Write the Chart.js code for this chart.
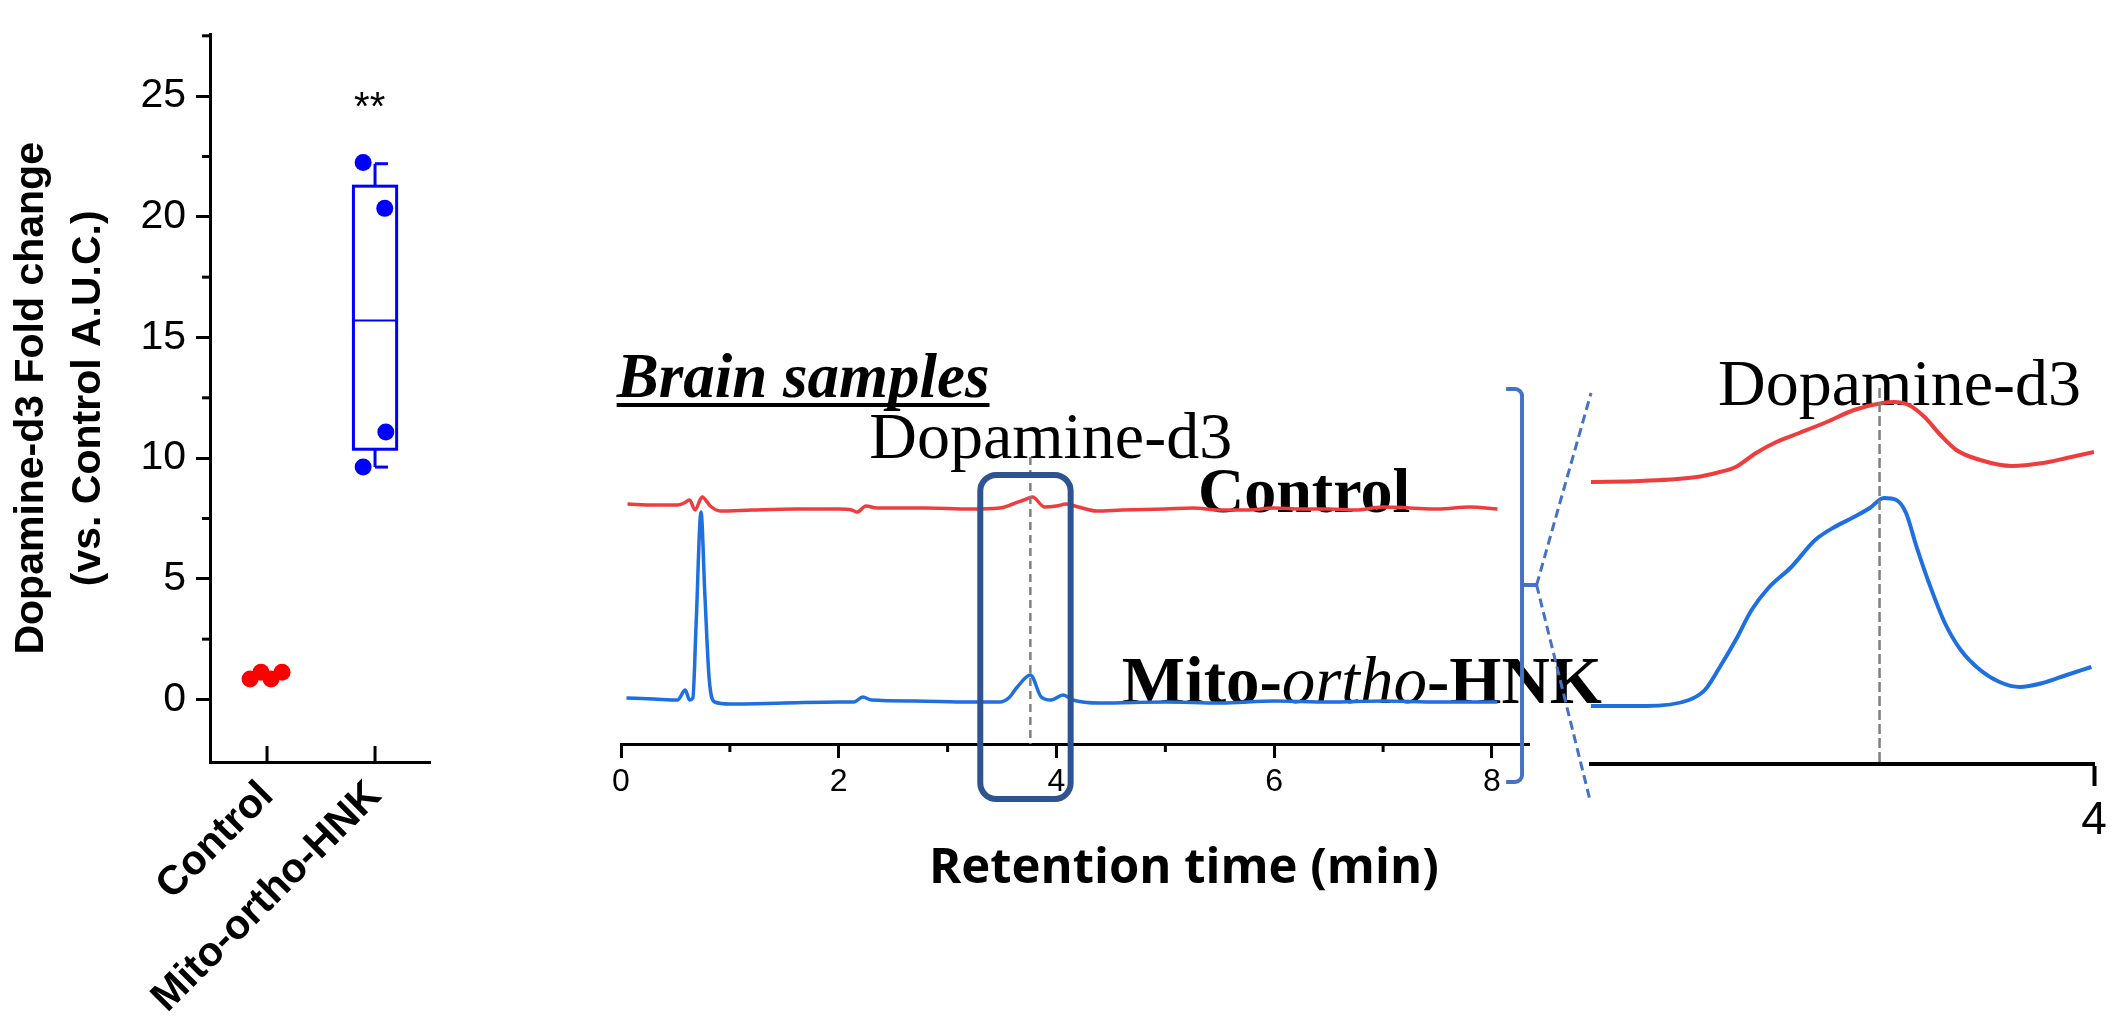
<!DOCTYPE html>
<html><head><meta charset="utf-8">
<script src="https://cdn.jsdelivr.net/npm/chart.js@4.4.1/dist/chart.umd.min.js"></script>
<style>
html,body{margin:0;padding:0;background:#fff;width:2117px;height:1017px;overflow:hidden;}
canvas{position:absolute;top:0;}
</style></head><body>
<canvas id="c1" width="450" height="1017" style="left:0px"></canvas>
<canvas id="c2" width="1667" height="1017" style="left:450px"></canvas>
<canvas id="c3" width="537" height="1017" style="left:1580px"></canvas>
<script>
// ---------------- DATA ----------------
// Left panel: fold change (vs. Control A.U.C.)
const groupLabels = ['Control', 'Mito-ortho-HNK'];
const foldTicks = [0, 5, 10, 15, 20, 25];
const foldMinorTicks = [2.5, 7.5, 12.5, 17.5, 22.5, 27.5];
const controlJitter = [-0.157, -0.056, 0.037, 0.139];
const controlFold = [0.85, 1.13, 0.85, 1.13];
const mitoJitter = [0.89, 1.09, 1.10, 0.89];
const mitoFold = [22.25, 20.35, 11.08, 9.63];
const mitoBoxStats = [9.63, 10.37, 15.7, 21.27, 22.2]; // min, q1, median, q3, max

// Chromatogram (retention time in min, signal in a.u.)
const timeTicks = [0, 2, 4, 6, 8];
const timeMinorTicks = [1, 3, 5, 7];
const controlTime = [0.06,0.30,0.52,0.58,0.63,0.68,0.745,0.82,0.91,1.2,1.6,2.0,2.12,2.17,2.25,2.35,2.8,3.2,3.48,3.6,3.7,3.78,3.89,4.0,4.09,4.2,4.37,4.6,5.0,5.25,5.5,5.75,6.0,6.25,6.5,6.75,7.0,7.25,7.5,7.8,8.05];
const controlSignal = [24.0,23.9,23.9,24.1,24.4,23.4,24.7,23.8,23.3,23.4,23.5,23.5,23.4,23.2,23.8,23.6,23.6,23.5,23.6,24.0,24.4,24.7,23.7,23.8,24.0,23.7,23.3,23.4,23.5,23.6,23.4,23.4,23.6,23.5,23.5,23.4,23.7,23.6,23.5,23.7,23.5];
const mitoTime = [0.05,0.3,0.52,0.59,0.63,0.66,0.69,0.735,0.77,0.81,0.86,1.0,1.5,2.0,2.14,2.22,2.3,2.7,3.2,3.48,3.56,3.64,3.76,3.86,3.95,4.06,4.15,4.4,5.0,5.5,6.0,6.5,7.0,7.5,8.05];
const mitoSignal = [4.6,4.5,4.4,5.4,4.4,4.6,12.0,23.2,15.0,6.5,4.2,4.0,4.1,4.2,4.2,4.7,4.4,4.3,4.2,4.2,4.6,5.7,6.9,4.7,4.4,4.9,4.4,4.1,4.2,4.1,4.3,4.2,4.3,4.2,4.2];

// Zoomed inset around the Dopamine-d3 peak
const insetTicks = [4];
const insetControlTime = [3.430,3.486,3.550,3.576,3.594,3.617,3.640,3.666,3.697,3.728,3.760,3.773,3.790,3.808,3.826,3.844,3.871,3.907,3.942,3.969,4.000];
const insetControlSignal = [28.2,28.3,28.7,29.2,29.7,31.1,32.2,33.1,34.2,35.4,36.1,36.2,35.9,34.7,32.9,31.4,30.4,29.8,30.1,30.6,31.2];
const insetMitoTime = [3.430,3.492,3.541,3.559,3.576,3.594,3.612,3.631,3.657,3.684,3.706,3.728,3.746,3.762,3.776,3.787,3.799,3.813,3.831,3.849,3.871,3.893,3.916,3.942,3.969,3.997];
const insetMitoSignal = [5.8,5.8,6.4,7.4,9.7,12.4,15.4,17.6,19.7,22.4,23.7,24.7,25.6,26.6,26.4,25.1,21.7,18.1,14.1,11.4,9.4,8.2,7.7,8.1,8.9,9.7];

// ---------------- HELPERS ----------------
const SANS = '"Liberation Sans", Arial, sans-serif';
const SERIF = '"Liberation Serif", "Times New Roman", serif';
const RED = '#F03C3C', BLUE = '#1E6FE0';
function pts(xs, ys){ return xs.map((x,i)=>({x, y: ys[i]})); }
function line(ctx, x1, y1, x2, y2){ ctx.beginPath(); ctx.moveTo(x1,y1); ctx.lineTo(x2,y2); ctx.stroke(); }
function text(ctx, s, x, y, font, align){ ctx.font = font; ctx.textAlign = align || 'left'; ctx.textBaseline = 'alphabetic'; ctx.fillStyle = '#000'; ctx.fillText(s, x, y); return ctx.measureText(s).width; }
const common = { responsive:false, animation:false, devicePixelRatio:1, events:[],
  plugins:{ legend:{display:false}, tooltip:{enabled:false} } };

// ---------------- LEFT PANEL ----------------
const leftDeco = { id:'leftDeco',
  beforeDatasetsDraw(chart){
    const {ctx, scales:{x, y}} = chart;
    const [mn, q1, md, q3, mx] = mitoBoxStats;
    const cx = x.getPixelForValue(1), xl = x.getPixelForValue(0.8), xr = x.getPixelForValue(1.2), xc = x.getPixelForValue(1.12);
    ctx.save(); ctx.strokeStyle = '#0000FF';
    ctx.lineWidth = 3;
    ctx.strokeRect(xl, y.getPixelForValue(q3), xr - xl, y.getPixelForValue(q1) - y.getPixelForValue(q3));
    line(ctx, cx, y.getPixelForValue(q3), cx, y.getPixelForValue(mx));
    line(ctx, cx, y.getPixelForValue(mx), xc, y.getPixelForValue(mx));
    line(ctx, cx, y.getPixelForValue(q1), cx, y.getPixelForValue(mn));
    line(ctx, cx, y.getPixelForValue(mn), xc, y.getPixelForValue(mn));
    ctx.lineWidth = 2;
    line(ctx, xl, y.getPixelForValue(md), xr, y.getPixelForValue(md));
    ctx.restore();
  },
  afterDraw(chart){
    const {ctx, chartArea, scales:{x, y}} = chart;
    ctx.save(); ctx.strokeStyle = '#000'; ctx.lineWidth = 3;
    [0,1].forEach(v => { const px = x.getPixelForValue(v); line(ctx, px, chartArea.bottom, px, chartArea.bottom - 16); });
    foldMinorTicks.forEach(v => { const py = y.getPixelForValue(v); line(ctx, chartArea.left, py, chartArea.left - 8, py); });
    text(ctx, '**', x.getPixelForValue(0.95), y.getPixelForValue(24.0), '40px ' + SANS, 'center');
    ctx.restore();
  }
};
new Chart(document.getElementById('c1'), {
  type:'scatter',
  data:{ datasets:[
    { data: pts(controlJitter, controlFold), backgroundColor:'#FF0000', borderColor:'#FF0000', pointRadius:8.5, borderWidth:0 },
    { data: pts(mitoJitter, mitoFold), backgroundColor:'#0000FF', borderColor:'#0000FF', pointRadius:8.5, borderWidth:0 }
  ]},
  options:{ ...common,
    layout:{ padding:{ top:17, right:20, left:0, bottom:0 } },
    scales:{
      x:{ type:'linear', min:-0.528, max:1.509,
        afterBuildTicks: s => { s.ticks = [0,1].map(v => ({value:v})); },
        afterFit: s => { s.height = 255; },
        grid:{ display:true, drawOnChartArea:false, drawTicks:false },
        border:{ display:true, color:'#000', width:3 },
        ticks:{ callback: v => groupLabels[v], minRotation:45, maxRotation:45, autoSkip:false, padding:10, color:'#000',
          font:{ family:SANS, size:41, weight:'bold' } } },
      y:{ min:-2.59, max:27.55,
        afterBuildTicks: s => { s.ticks = foldTicks.map(v => ({value:v})); },
        afterFit: s => { s.width = 210; },
        grid:{ drawOnChartArea:false, drawTicks:true, tickLength:14, tickWidth:3, tickColor:'#000' },
        border:{ display:true, color:'#000', width:3 },
        ticks:{ padding:10, color:'#000', font:{ family:SANS, size:41 } },
        title:{ display:true, text:['Dopamine-d3 Fold change', '(vs. Control A.U.C.)'], color:'#000',
          font:{ family:SANS, size:41, weight:'bold', lineHeight:1.4 }, padding:{ top:3, bottom:0 } } }
    }
  },
  plugins:[leftDeco]
});

// ---------------- CHROMATOGRAM ----------------
const mainDeco = { id:'mainDeco',
  beforeDatasetsDraw(chart){
    const {ctx, scales:{x, y}} = chart;
    ctx.save();
    const bx = x.getPixelForValue(-0.04), by = y.getPixelForValue(34.7);
    const w = text(ctx, 'Brain samples', bx, by, 'italic bold 63px ' + SERIF);
    ctx.fillRect(bx, y.getPixelForValue(33.9) - 2, w, 4);
    text(ctx, 'Dopamine-d3', x.getPixelForValue(2.28), y.getPixelForValue(28.6), '66px ' + SERIF);
    text(ctx, 'Control', x.getPixelForValue(5.30), y.getPixelForValue(23.2), 'bold 64px ' + SERIF);
    let mx = x.getPixelForValue(4.60); const my = y.getPixelForValue(4.1);
    mx += text(ctx, 'Mito-', mx, my, 'bold 67px ' + SERIF);
    mx += text(ctx, 'ortho', mx, my, 'italic 67px ' + SERIF);
    text(ctx, '-HNK', mx, my, 'bold 67px ' + SERIF);
    ctx.restore();
  },
  afterDraw(chart){
    const {ctx, chartArea, scales:{x, y}} = chart;
    ctx.save();
    // minor ticks
    ctx.strokeStyle = '#000'; ctx.lineWidth = 3;
    timeMinorTicks.forEach(v => { const px = x.getPixelForValue(v); line(ctx, px, chartArea.bottom, px, chartArea.bottom + 8); });
    // axis title
    text(ctx, 'Retention time (min)', x.getPixelForValue(5.17), y.getPixelForValue(-13.9), 'bold 49px "Open Sans", ' + SANS, 'center');
    // dashed peak marker
    ctx.strokeStyle = '#808080'; ctx.lineWidth = 2.5; ctx.setLineDash([8, 5]);
    line(ctx, x.getPixelForValue(3.76), y.getPixelForValue(28.7), x.getPixelForValue(3.76), y.getPixelForValue(0));
    ctx.setLineDash([]);
    // rounded selection box
    ctx.strokeStyle = '#2F5391'; ctx.lineWidth = 6;
    const x1 = x.getPixelForValue(3.30), x2 = x.getPixelForValue(4.13), y1 = y.getPixelForValue(26.9), y2 = y.getPixelForValue(-5.5);
    ctx.beginPath(); ctx.roundRect(x1, y1, x2 - x1, y2 - y1, 16); ctx.stroke();
    // bracket
    ctx.strokeStyle = '#4472C4'; ctx.lineWidth = 4;
    const bxv = x.getPixelForValue(8.276), bxh = x.getPixelForValue(8.13);
    const bt = y.getPixelForValue(35.5), bb = y.getPixelForValue(-3.8), bn = y.getPixelForValue(15.9);
    ctx.beginPath(); ctx.moveTo(bxh, bt); ctx.arcTo(bxv, bt, bxv, bb, 7); ctx.arcTo(bxv, bb, bxh, bb, 7); ctx.lineTo(bxh, bb); ctx.stroke();
    const nx = x.getPixelForValue(8.41);
    line(ctx, bxv, bn, nx, bn);
    ctx.lineWidth = 3; ctx.setLineDash([9, 5]);
    line(ctx, nx, bn, x.getPixelForValue(8.91), y.getPixelForValue(35.1));
    line(ctx, nx, bn, x.getPixelForValue(8.90), y.getPixelForValue(-5.6));
    ctx.restore();
  }
};
new Chart(document.getElementById('c2'), {
  type:'line',
  data:{ datasets:[
    { data: pts(controlTime, controlSignal), borderColor:RED, borderWidth:3.5, pointRadius:0, cubicInterpolationMode:'monotone' },
    { data: pts(mitoTime, mitoSignal), borderColor:BLUE, borderWidth:3.5, pointRadius:0, cubicInterpolationMode:'monotone' }
  ]},
  options:{ ...common,
    layout:{ padding:{ left:171, right:588, top:400, bottom:0 } },
    scales:{
      x:{ type:'linear', min:0, max:8.34,
        afterBuildTicks: s => { s.ticks = timeTicks.map(v => ({value:v})); },
        afterFit: s => { s.height = 273; },
        grid:{ drawOnChartArea:false, tickLength:14, tickWidth:3, tickColor:'#000' },
        border:{ display:true, color:'#000', width:3 },
        ticks:{ padding:5, color:'#000', font:{ family:SANS, size:32 } } },
      y:{ display:false, min:0, max:34.4 }
    }
  },
  plugins:[mainDeco]
});

// ---------------- INSET ----------------
const insetDeco = { id:'insetDeco',
  beforeDatasetsDraw(chart){
    const {ctx, scales:{x, y}} = chart;
    ctx.save();
    text(ctx, 'Dopamine-d3', x.getPixelForValue(3.574), y.getPixelForValue(35.9), '66px ' + SERIF);
    ctx.restore();
  },
  afterDatasetsDraw(chart){
    const {ctx, scales:{x, y}} = chart;
    ctx.save();
    ctx.strokeStyle = '#808080'; ctx.lineWidth = 2.5; ctx.setLineDash([10, 4]);
    line(ctx, x.getPixelForValue(3.757), y.getPixelForValue(37.6), x.getPixelForValue(3.757), y.getPixelForValue(0));
    ctx.restore();
  }
};
new Chart(document.getElementById('c3'), {
  type:'line',
  data:{ datasets:[
    { data: pts(insetControlTime, insetControlSignal), borderColor:RED, borderWidth:4, pointRadius:0, cubicInterpolationMode:'monotone' },
    { data: pts(insetMitoTime, insetMitoSignal), borderColor:BLUE, borderWidth:4, pointRadius:0, cubicInterpolationMode:'monotone' }
  ]},
  options:{ ...common,
    layout:{ padding:{ left:11, right:23, top:380, bottom:0 } },
    scales:{
      x:{ type:'linear', min:3.43, max:4.0,
        afterBuildTicks: s => { s.ticks = insetTicks.map(v => ({value:v})); },
        afterFit: s => { s.height = 253; },
        grid:{ drawOnChartArea:false, tickLength:22, tickWidth:4, tickColor:'#000' },
        border:{ display:true, color:'#000', width:4 },
        ticks:{ padding:8, color:'#000', font:{ family:SANS, size:46 } } },
      y:{ display:false, min:0, max:38.4 }
    }
  },
  plugins:[insetDeco]
});
</script>
</body></html>
